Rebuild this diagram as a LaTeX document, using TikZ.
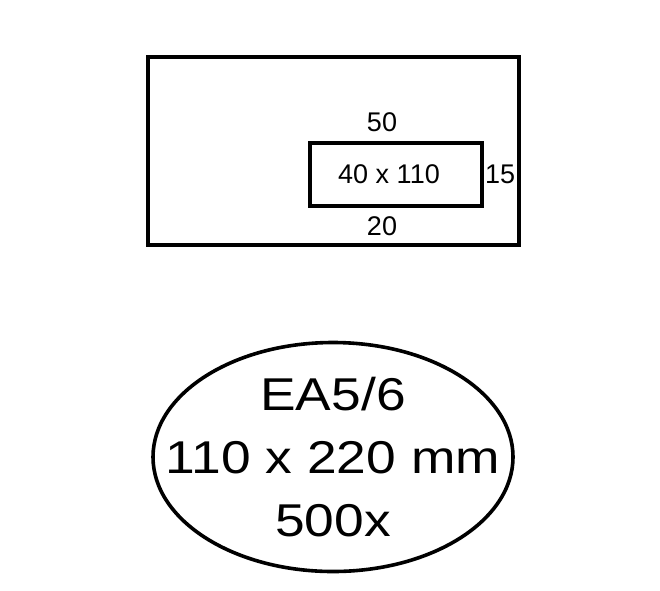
\documentclass[tikz,border=0pt]{standalone}
\usepackage{fontspec}
\setmainfont{Liberation Sans}
\usetikzlibrary{positioning,shapes.geometric}

\begin{document}
\begin{tikzpicture}[x=1pt,y=-1pt]
		\newcommand\lw{3.6pt}
		\newcommand\envw{371pt}
		\newcommand\envh{188pt}
		\tikzset{
		box/.style = {draw, line width = \lw, inner sep = 0pt},
		dim/.style = {font = \fontsize{27}{30}\selectfont, inner sep = 0pt},
		big/.style = {font = \fontsize{46}{63}\selectfont, align = center, inner sep = 0pt, xscale = 1.16},
	}
	\useasboundingbox (0,0) rectangle (660,590);
	% envelope and window
	\node [box, minimum width=\envw, minimum height=\envh] (env) at (333.5,151) {};
	\node [box, minimum width=172pt, minimum height=63pt] (win) at (396,174.5) {};
	\node [dim] (size) at (389,174) {40 x 110};
	% distances
	\node [dim, above=9pt of win.north, xshift=-14pt] (top) {50};
	\node [dim, below=9pt of win.south, xshift=-14pt] (bot) {20};
	\node [dim, right=1pt of win.east] (rgt) {15};
	% label
	\node [box, ellipse, minimum width=360pt, minimum height=229pt] (oval) at (333,457) {};
	\node [big] (txt) at (oval.center) {EA5/6\\110 x 220 mm\\500x};
\end{tikzpicture}
\end{document}
